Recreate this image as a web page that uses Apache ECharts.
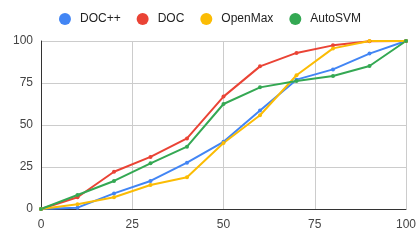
<!DOCTYPE html>
<html><head><meta charset="utf-8">
<script src="https://cdn.jsdelivr.net/npm/echarts@6/dist/echarts.min.js"></script>
<style>html,body{margin:0;padding:0;background:#fff}#c{width:420px;height:242px}</style>
</head><body><div id="c"></div>
<script>
const xs = [0,10,20,30,40,50,60,70,80,90,100];
const docpp = [0,0.8,9.3,16.7,27.6,40,58.6,77,83.1,92.5,100];
const doc = [0,7,22.2,31,42,66.9,84.9,92.9,97.4,99.8,100];
const openmax = [0,2.8,7,14.3,18.9,39.3,55.8,79.6,95.6,100,100];
const autosvm = [0,8.3,16.7,27.2,37.1,62.5,72.4,76.2,79.2,85.1,100];
const names = ['DOC++','DOC','OpenMax','AutoSVM'];
const colors = ['#4285F4','#EA4335','#FBBC04','#34A853'];
const datas = [docpp, doc, openmax, autosvm];
const chart = echarts.init(document.getElementById('c'));
chart.setOption({
  animation:false,
  textStyle:{fontFamily:'Liberation Sans, Arial, sans-serif'},
  legend:{top:8,left:'center',icon:'circle',itemWidth:12,itemHeight:12,itemGap:16,
    textStyle:{fontSize:12,color:'#222',padding:[0,0,0,4]},data:names},
  grid:{left:41,right:14,top:41,bottom:33},
  xAxis:{type:'value',min:0,max:100,interval:25,
    axisLine:{lineStyle:{color:'#333'}},axisTick:{show:false},
    axisLabel:{color:'#444',fontSize:12,margin:10},
    splitLine:{lineStyle:{color:'#ccc'}}},
  yAxis:{type:'value',min:0,max:100,interval:25,
    axisLine:{show:true,lineStyle:{color:'#333'}},axisTick:{show:false},
    axisLabel:{color:'#444',fontSize:12,margin:8},
    splitLine:{lineStyle:{color:'#ccc'}}},
  series: names.map((n,i)=>({name:n,type:'line',data:xs.map((x,j)=>[x,datas[i][j]]),
    color:colors[i],lineStyle:{width:2},symbol:'circle',symbolSize:4,showSymbol:true}))
});
</script></body></html>
